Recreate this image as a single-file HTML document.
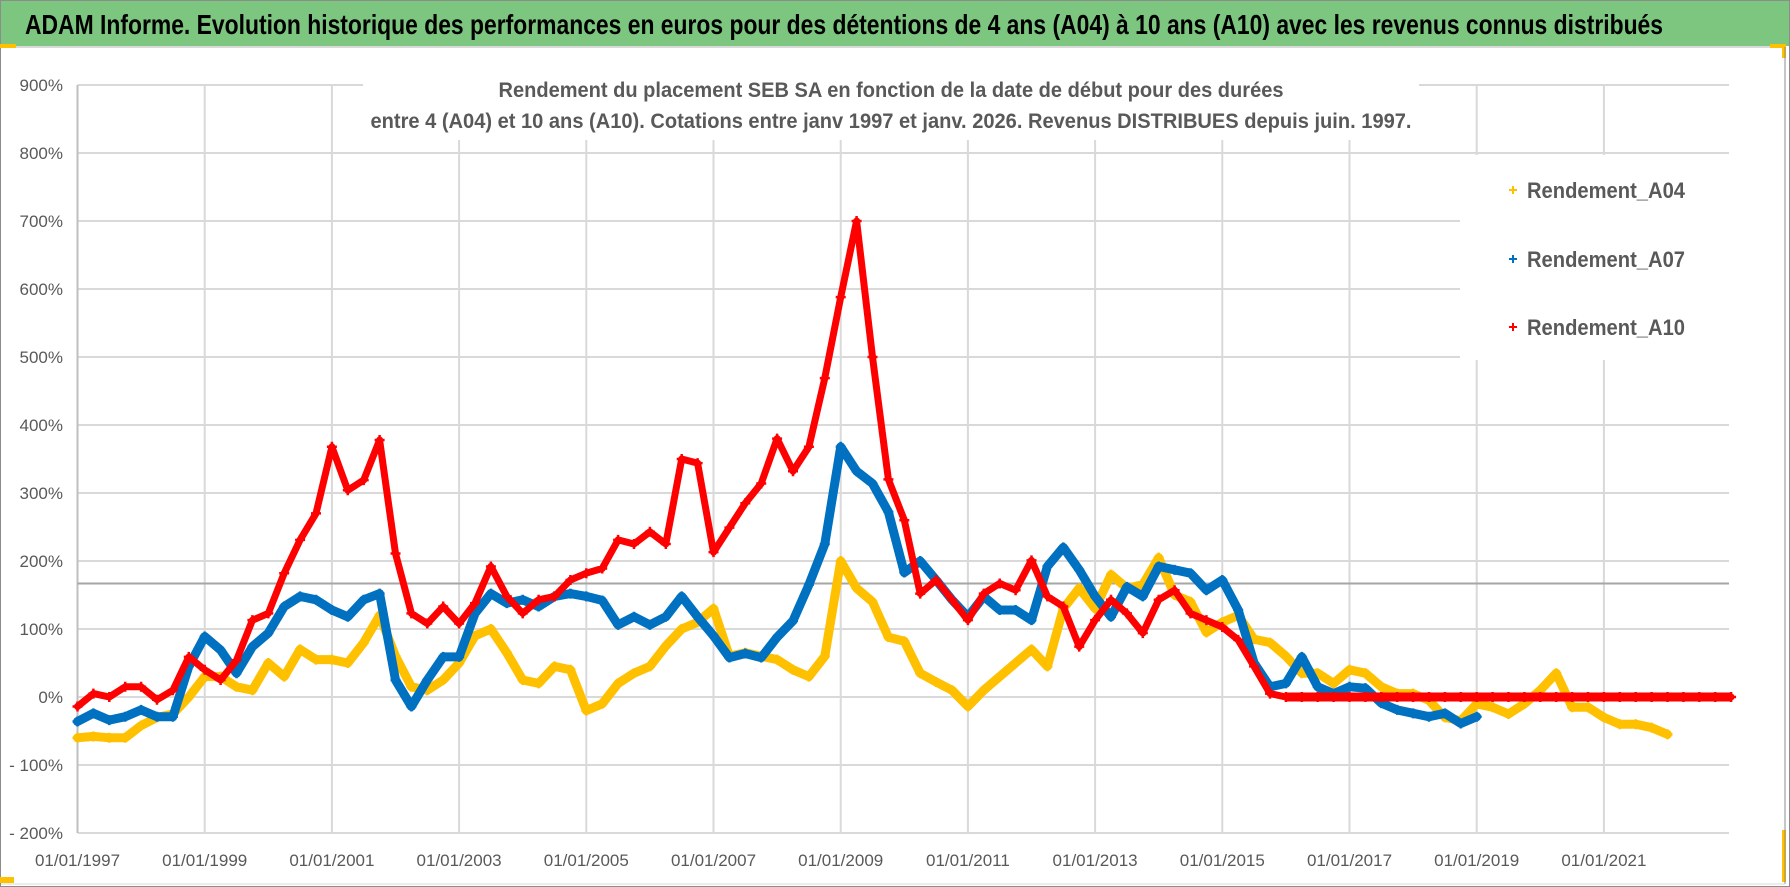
<!DOCTYPE html>
<html><head><meta charset="utf-8">
<style>
html,body{margin:0;padding:0;background:#fff;}
svg{display:block;}
text{font-family:"Liberation Sans",sans-serif;}
</style></head>
<body>
<svg id="chart" width="1790" height="887" viewBox="0 0 1790 887" xmlns="http://www.w3.org/2000/svg">
  <rect x="0" y="0" width="1790" height="887" fill="#ffffff"/>
  <rect x="0.5" y="0.5" width="1789" height="886" fill="none" stroke="#8c8c8c"/>
  <rect x="1" y="1" width="1788" height="45" fill="#7dc67f"/>
  <line x1="1" y1="47" x2="1785" y2="47" stroke="#d9d9d9" stroke-width="2"/>
  <rect x="0" y="44" width="16" height="4" fill="#ffc000"/>
  <rect x="1770" y="44" width="16" height="4" fill="#ffc000"/>
  <rect x="1782" y="44" width="4" height="14" fill="#ffc000"/>
  <rect x="1782" y="830" width="4" height="52" fill="#ffc000"/>
  <rect x="0" y="877" width="14" height="6" fill="#ffc000"/>
  <line x1="1785" y1="47" x2="1785" y2="884" stroke="#8c8c8c"/>
  <line x1="1" y1="884" x2="1785" y2="884" stroke="#d9d9d9"/>
  <text x="25" y="34" font-size="28" font-weight="bold" fill="#000" textLength="1638" lengthAdjust="spacingAndGlyphs">ADAM Informe. Evolution historique des performances en euros pour des détentions de 4 ans (A04) à 10 ans (A10) avec les revenus connus distribués</text>
  <g id="grid"></g>
  <g id="axes"></g>
  <line id="refline" stroke="#a6a6a6" stroke-width="2"/>
  <g id="series"></g>
  <rect x="363" y="58" width="1056" height="82" fill="#fff"/>
  <text x="891" y="97" font-size="21" font-weight="bold" fill="#595959" text-anchor="middle" textLength="785" lengthAdjust="spacingAndGlyphs">Rendement du placement SEB SA en fonction de la date de début pour des durées</text>
  <text x="891" y="128" font-size="21" font-weight="bold" fill="#595959" text-anchor="middle" textLength="1041" lengthAdjust="spacingAndGlyphs">entre 4 (A04) et 10 ans (A10).  Cotations entre janv 1997 et janv. 2026. Revenus DISTRIBUES depuis juin. 1997.</text>
  <rect x="1460" y="155" width="270" height="205" fill="#fff"/>
  <g id="legend"></g>
</svg>
<script>
const startYear = 1997;
const stepYear = 0.25;
const yTicks = [900,800,700,600,500,400,300,200,100,0,-100,-200];
const yTickLabels = ["900%","800%","700%","600%","500%","400%","300%","200%","100%","0%","- 100%","- 200%"];
const xTickYears = [1997,1999,2001,2003,2005,2007,2009,2011,2013,2015,2017,2019,2021];
const xTickLabels = ["01/01/1997","01/01/1999","01/01/2001","01/01/2003","01/01/2005","01/01/2007","01/01/2009","01/01/2011","01/01/2013","01/01/2015","01/01/2017","01/01/2019","01/01/2021"];
const refValue = 167;
const seriesNames = ["Rendement_A04","Rendement_A07","Rendement_A10"];
const valuesA04 = [-60,-58,-60,-60,-42,-30,-25,0,30,30,15,10,50,30,70,55,55,50,80,120,60,15,10,25,50,90,100,65,25,20,45,40,
  -20,-10,20,35,45,75,100,110,130,60,65,60,55,40,30,60,200,160,140,88,82,35,22,10,
  -14,10,30,50,70,45,130,160,130,180,160,165,205,150,140,95,110,120,85,80,60,35,35,20,
  40,35,15,5,5,-5,-30,-35,-10,-15,-25,-10,10,35,-15,-15,-30,-40,-40,-45,-55];
const valuesA07 = [-36,-24,-34,-29,-19,-29,-29,45,89,69,35,74,94,133,148,143,128,118,143,152,25,-14,25,59,59,123,152,138,143,133,148,152,
  148,142,106,118,106,118,148,118,90,58,64,58,88,112,165,225,368,332,314,272,183,200,172,143,
  118,148,128,128,113,192,220,187,148,118,162,148,192,187,182,157,172,128,50,15,20,59,15,5,
  15,13,-9,-19,-24,-29,-24,-39,-29];
const valuesA10 = [-14,5,0,15,15,-4,10,59,40,25,54,113,123,182,231,270,368,304,319,378,211,123,108,133,108,138,192,148,123,143,148,172,
  182,189,231,225,243,225,350,344,213,249,285,314,380,332,368,469,588,700,500,320,260,152,172,143,
  113,152,167,157,201,148,133,74,113,143,123,94,143,157,123,113,103,84,45,5,0,
  0,0,0,0,0,0,0,0,0,0,0,0,0,0,0,0,0,0,0,0,0,0,0,0,0,0,0,0];
const seriesColors = ["#ffc000","#0070c0","#ff0000"];

const X0 = 77.5, PXY = 63.6, Y0 = 697, PXV = 0.68, XR = 1729;
function xScale(year){ return X0 + (year - startYear) * PXY; }
function yScale(v){ return Y0 - v * PXV; }
const NS = "http://www.w3.org/2000/svg";
function mk(tag, attrs, parent){ const e = document.createElementNS(NS, tag); for (const k in attrs) e.setAttribute(k, attrs[k]); parent.appendChild(e); return e; }

const grid = document.getElementById('grid');
const axes = document.getElementById('axes');
yTicks.forEach((v,i)=>{
  const l = mk('line',{x1:X0,x2:XR,y1:yScale(v),y2:yScale(v),stroke:'#d9d9d9','stroke-width':2},grid);
  
  
  const t = mk('text',{x:63,y:yScale(v)+6,'font-size':17,fill:'#595959','text-anchor':'end'},axes);
  t.textContent = yTickLabels[i];
  
  
});
xTickYears.forEach((yr,i)=>{
  const l = mk('line',{x1:xScale(yr),x2:xScale(yr),y1:yScale(900),y2:yScale(-200),stroke:yr===startYear?'#bfbfbf':'#d9d9d9','stroke-width':2},grid);
  
  
  const t = mk('text',{x:xScale(yr),y:866,'font-size':17,fill:'#595959','text-anchor':'middle'},axes);
  t.textContent = xTickLabels[i];
  
  
});
const rl = document.getElementById('refline');
rl.setAttribute('x1',X0); rl.setAttribute('x2',XR);
rl.setAttribute('y1',yScale(refValue)); rl.setAttribute('y2',yScale(refValue));

const sg = document.getElementById('series');
[valuesA04, valuesA07, valuesA10].forEach((vals,si)=>{
  const g = mk('g',{},sg);
  
  
  const pts = vals.map((v,i)=>xScale(startYear+i*stepYear).toFixed(1)+','+yScale(v).toFixed(1)).join(' ');
  const pl = mk('polyline',{points:pts,fill:'none',stroke:seriesColors[si],'stroke-width':si===2?7:9,'stroke-linejoin':'round','stroke-linecap':'round'},g);
  
  
  vals.forEach((v,i)=>{
    const x = xScale(startYear+i*stepYear), y = yScale(v);
    const m = mk('path',{d:`M${x-5},${y}H${x+5}M${x},${y-5}V${y+5}`,stroke:seriesColors[si],'stroke-width':2.5},g);
    
    
  });
});
const extra = mk('line',{x1:xScale(2016),x2:xScale(2023),y1:yScale(0),y2:yScale(0),stroke:'#ff0000','stroke-width':9},sg);



const lg = document.getElementById('legend');
const ly = [190,259,327];
seriesNames.forEach((n,i)=>{
  const m = mk('path',{d:`M${1509},${ly[i]}H${1517}M${1513},${ly[i]-4}V${ly[i]+4}`,stroke:seriesColors[i],'stroke-width':2},lg);
  
  
  const t = mk('text',{x:1527,y:ly[i]+8,'font-size':22,'font-weight':'bold',fill:'#595959',textLength:158,lengthAdjust:'spacingAndGlyphs'},lg);
  t.textContent = n;
  
  
});
</script>
</body></html>
